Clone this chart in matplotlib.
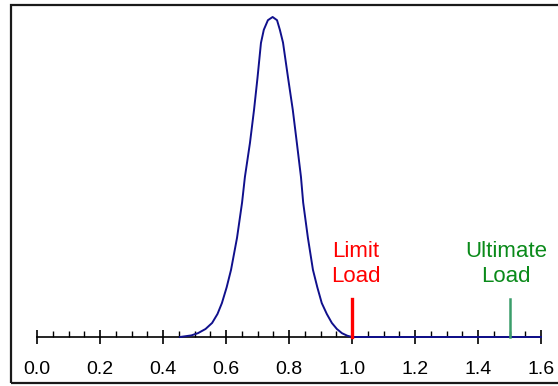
import numpy as np
import matplotlib
matplotlib.use("Agg")
import matplotlib.pyplot as plt
from matplotlib.patches import Rectangle

plt.rcParams['font.family'] = ['Liberation Sans', 'DejaVu Sans']

# load distribution (peak scaled to 1)
load = [0.454, 0.49, 0.511, 0.535, 0.556, 0.573, 0.587, 0.602, 0.616, 0.635,
        0.651, 0.660, 0.676, 0.689, 0.700, 0.711, 0.720, 0.733, 0.748, 0.762,
        0.771, 0.781, 0.797, 0.812, 0.825, 0.838, 0.845, 0.860, 0.876, 0.890,
        0.904, 0.920, 0.936, 0.952, 0.968, 0.985, 1.0, 1.6]
density = [0.0, 0.005, 0.012, 0.025, 0.044, 0.072, 0.106, 0.155, 0.21, 0.31,
           0.42, 0.50, 0.606, 0.71, 0.81, 0.919, 0.96, 0.99, 1.0, 0.99,
           0.96, 0.92, 0.81, 0.71, 0.606, 0.50, 0.42, 0.31, 0.21, 0.155,
           0.106, 0.072, 0.044, 0.025, 0.012, 0.004, 0.0, 0.0]

limit_load = 1.0
ultimate_load = 1.5
marker_height = 0.12
tick_labels = ['0.0', '0.2', '0.4', '0.6', '0.8', '1.0', '1.2', '1.4', '1.6']

fig = plt.figure(figsize=(5.58, 3.86), dpi=100)
ax = fig.add_axes([0, 0, 1, 1])
ax.set_xlim(-37 / 315, 521 / 315)
ax.set_ylim(-49 / 320, 337 / 320)

# frame around the plot (right edge cut off in the original)
fig.patches.append(Rectangle((11 / 558, 3 / 386), 1.2, 378 / 386,
                             transform=fig.transFigure, fill=False,
                             edgecolor='#1a1a1a', lw=1.6, clip_on=False))

for s in ['left', 'right', 'top']:
    ax.spines[s].set_visible(False)
ax.spines['bottom'].set_position(('data', 0))
ax.spines['bottom'].set_bounds(0, 1.6)
ax.spines['bottom'].set_linewidth(1.2)
ax.set_yticks([])

ax.set_xticks(np.arange(0, 1.61, 0.2))
ax.set_xticklabels(tick_labels, fontsize=14)
ax.set_xticks(np.arange(0, 1.61, 0.05), minor=True)
ax.tick_params(axis='x', which='major', direction='inout', length=10,
               width=1.2, pad=12)
ax.tick_params(axis='x', which='minor', direction='in', length=4, width=1.0)

ax.plot(load, density, color='#10108c', lw=1.4, zorder=3)

ax.plot([limit_load, limit_load], [0, marker_height], color='#ff0000',
        lw=2.4, zorder=4)
ax.plot([ultimate_load, ultimate_load], [0, marker_height], color='#3a9d6a',
        lw=1.8, zorder=4)

ax.text(1.011, 0.228, 'Limit\nLoad', color='#ff0000', fontsize=16,
        ha='center', va='center', linespacing=1.3)
ax.text(1.49, 0.228, 'Ultimate\nLoad', color='#0a8a1a', fontsize=16,
        ha='center', va='center', linespacing=1.3)

fig.savefig('out.png', dpi=100)
